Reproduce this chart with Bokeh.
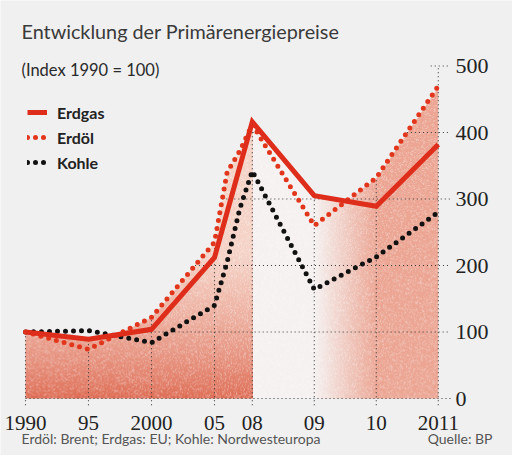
import numpy as np
from bokeh.plotting import figure
from bokeh.models import Range1d, FixedTicker, Label, Legend, LegendItem
from bokeh.embed import file_html
from bokeh.resources import INLINE

# ---------------- data ----------------
title_text = "Entwicklung der Primärenergiepreise"
subtitle_text = "(Index 1990 = 100)"
note_text = "Erdöl: Brent; Erdgas: EU; Kohle: Nordwesteuropa"
source_text = "Quelle: BP"

tick_years = [1990, 1995, 2000, 2005, 2008, 2009, 2010, 2011]
tick_labels = ["1990", "95", "2000", "05", "08", "09", "10", "2011"]
y_ticks = [0, 100, 200, 300, 400, 500]

gas_years = [1990, 1995, 2000, 2005, 2008, 2009, 2010, 2011]
gas = [100, 89, 104, 212, 416, 305, 289, 382]

oil_years = [1990, 1995, 2000, 2005, 2006, 2007, 2008, 2009, 2010, 2011]
oil = [100, 74, 122, 235, 340, 372, 412, 260, 332, 470]

coal_years = [1990, 1995, 2000, 2005, 2006, 2007, 2008, 2009, 2010, 2011]
coal = [100, 102, 84, 140, 205, 285, 342, 164, 213, 280]

# ---------------- scale: compressed before 2008, stretched after ----------------
K = 4.92


def pos(years):
    return [round((y - 1990) if y <= 2008 else 18 + (y - 2008) * K, 3) for y in years]


BG = "#f0f0f0"
RED = "#de2e1b"
OIL_RED = "#e2361c"
BLACK = "#111111"
GRID = "#3a3a3a"

PX = 12.6   # pixels per x unit
PY = 0.665  # pixels per y unit
OX, OY = 33, 406  # page position of (1990, 0)


def dx(px):
    return (px - OX) / PX


def dy(py):
    return (OY - py) / PY


x_end = pos([2011])[0]
X_AX = dx(458)   # right axis location
Y_AX = dy(419.5)   # bottom axis location

p = figure(width=512, height=455, x_range=Range1d(dx(8), dx(520)), y_range=Range1d(dy(463), dy(8)),
           y_axis_location="right", output_backend="svg", toolbar_location=None,
           min_border_left=0, min_border_right=0, min_border_top=0, min_border_bottom=0)
p.background_fill_color = BG
p.border_fill_color = BG
p.outline_line_color = None
p.grid.visible = False

# ---------------- gradient fill (with fine grain) under the upper envelope ----------------
gx, ox, cx = pos(gas_years), pos(oil_years), pos(coal_years)
dw, dh = x_end, 500.0
W, H = int(round(dw * PX)), int(round(dh * PY))
xc = (np.arange(W) + 0.5) * dw / W
yc = (np.arange(H) + 0.5) * dh / H
upper_c = np.maximum(np.interp(xc, gx, gas), np.interp(xc, ox, oil))
XX, YY = np.meshgrid(xc, yc)
UU = np.broadcast_to(upper_c, (H, W))

x08, x09, x10 = pos([2008, 2009, 2010])
dark = np.array([222, 106, 82], float)
light = np.array([245, 210, 198], float)
pale = np.array([245, 241, 240], float)
salmon = np.array([236, 165, 147], float)

s = np.clip(YY / 210.0, 0, 1) ** 0.75
left_c = dark[None, None, :] + (light - dark)[None, None, :] * s[..., None]
t = np.clip((XX - x09) / (x10 - x09), 0, 1)
right_c = pale[None, None, :] + (salmon - pale)[None, None, :] * t[..., None]
col = np.where((XX < x08)[..., None], left_c, right_c)

# paper grain: deterministic hash pattern, lightening some pixels
II, JJ = np.meshgrid(np.arange(W), np.arange(H))
grain = np.modf(np.abs(np.sin(II * 12.9898 + JJ * 78.233) * 43758.5453))[0]
lift = np.clip((grain - 0.62) / 0.38, 0, 1) * 0.40
col = col + (255 - col) * lift[..., None]

alpha = np.clip((UU - YY) / (dh / H) + 0.5, 0, 1)

img = np.empty((H, W), dtype=np.uint32)
view = img.view(dtype=np.uint8).reshape((H, W, 4))
view[..., 0] = np.clip(col[..., 0], 0, 255).astype(np.uint8)
view[..., 1] = np.clip(col[..., 1], 0, 255).astype(np.uint8)
view[..., 2] = np.clip(col[..., 2], 0, 255).astype(np.uint8)
view[..., 3] = (alpha * 255).astype(np.uint8)
p.image_rgba(image=[img], x=0, y=0, dw=dw, dh=dh)

# ---------------- dotted grid, clipped to the filled area ----------------
xs = np.linspace(0, x_end, 4000)
upper = np.maximum(np.interp(xs, gx, gas), np.interp(xs, ox, oil))
sx0, sy0, sx1, sy1 = [], [], [], []
for h in y_ticks[:-1]:
    m = upper >= h
    idx = np.flatnonzero(np.diff(np.concatenate([[0], m.astype(int), [0]])))
    for a, b in zip(idx[0::2], idx[1::2]):
        xa, xb = xs[a], xs[b - 1]
        if b - 1 == len(xs) - 1:
            xb = X_AX
        sx0.append(xa); sx1.append(xb); sy0.append(h); sy1.append(h)
sx0.append(x_end - 0.6); sx1.append(X_AX); sy0.append(500); sy1.append(500)
tick_pos = pos(tick_years)
for xp in tick_pos:
    top = 500 if xp == x_end else float(np.maximum(np.interp(xp, gx, gas), np.interp(xp, ox, oil)))
    sx0.append(xp); sx1.append(xp); sy0.append(-10); sy1.append(top)
p.segment(x0=sx0, y0=sy0, x1=sx1, y1=sy1, line_color=GRID, line_width=1.1, line_dash="1 3")

# ---------------- series ----------------
r_coal = p.line(cx, coal, line_color=BLACK, line_width=5, line_dash="0 8",
                line_cap="round", line_join="round")
r_oil = p.line(ox, oil, line_color=OIL_RED, line_width=5, line_dash="0 8",
               line_cap="round", line_join="round")
r_gas = p.line(gx, gas, line_color=RED, line_width=5, line_join="miter")

legend = Legend(items=[LegendItem(label="Erdgas", renderers=[r_gas]),
                       LegendItem(label="Erdöl", renderers=[r_oil]),
                       LegendItem(label="Kohle", renderers=[r_coal])],
                location=(27, 283), padding=0, margin=0, spacing=5,
                glyph_width=20, glyph_height=20, label_standoff=10,
                label_text_font="Lato", label_text_font_style="bold",
                label_text_font_size="16px", label_text_color="#222222",
                background_fill_alpha=0, border_line_alpha=0)
p.add_layout(legend)

# ---------------- axes ----------------
xa = p.xaxis[0]
xa.ticker = FixedTicker(ticks=tick_pos)
xa.major_label_overrides = {k: v for k, v in zip(tick_pos, tick_labels)}
xa.fixed_location = Y_AX
ya = p.yaxis[0]
ya.ticker = FixedTicker(ticks=y_ticks)
ya.fixed_location = X_AX
for ax in (xa, ya):
    ax.axis_line_color = None
    ax.major_tick_line_color = None
    ax.minor_tick_line_color = None
    ax.major_tick_in = 0
    ax.major_tick_out = 0
    ax.major_label_text_font = "Liberation Serif"
    ax.major_label_text_color = "#222222"
xa.major_label_text_font_size = "21px"
ya.major_label_text_font_size = "22px"
xa.major_label_standoff = 4
ya.major_label_standoff = 5

# ---------------- texts ----------------


def lab(text, px_x, px_y, size, color, align="left", style="normal"):
    p.add_layout(Label(x=dx(px_x), y=dy(px_y), text=text,
                       text_font="Lato", text_font_size=size, text_color=color,
                       text_align=align, text_baseline="middle", text_font_style=style))


lab(title_text, 29, 38, "19.8px", "#3a3a3a")
lab(subtitle_text, 29, 77, "16.5px", "#2a2a2a")
lab(note_text, 29, 446, "14px", "#555555")
lab(source_text, 500, 446, "14px", "#555555", align="right")

open("out.html", "w").write(file_html(p, INLINE))
